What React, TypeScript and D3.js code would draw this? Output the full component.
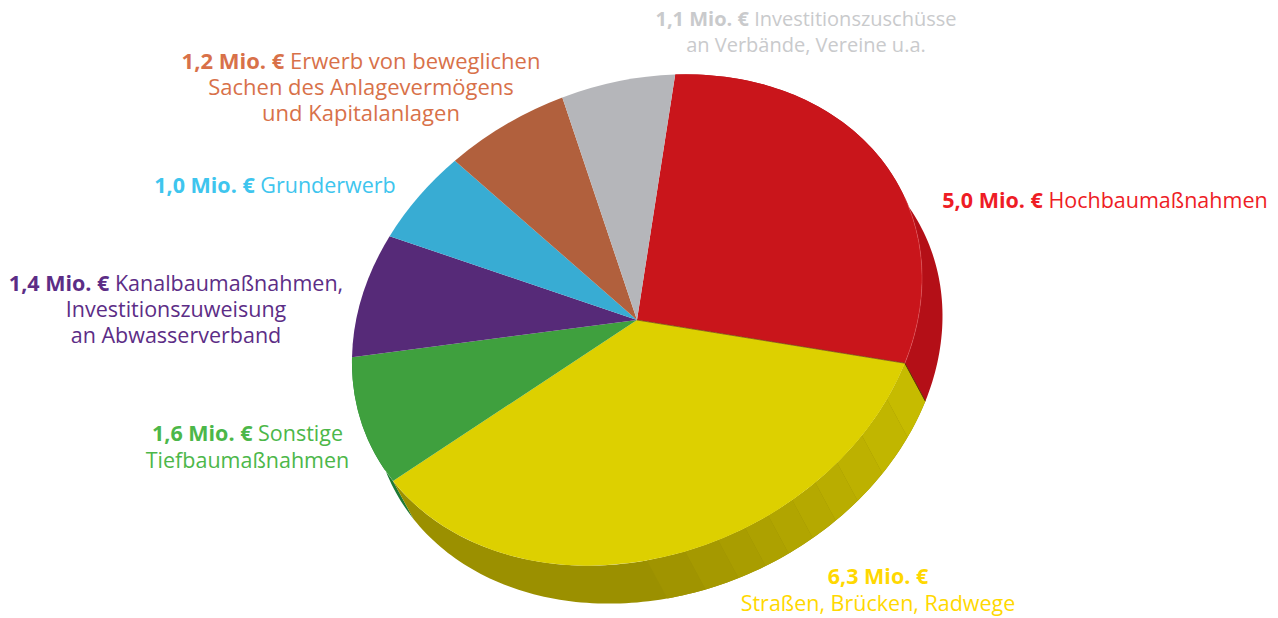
import React from "react";
import * as d3 from "d3";

const categories = ["Hochbaumaßnahmen", "Straßen, Brücken, Radwege", "Sonstige Tiefbaumaßnahmen", "Kanalbaumaßnahmen, Investitionszuweisung an Abwasserverband", "Grunderwerb", "Erwerb von beweglichen Sachen des Anlagevermögens und Kapitalanlagen", "Investitionszuschüsse an Verbände, Vereine u.a."];
const values = [5.0, 6.3, 1.58, 1.4, 1.0, 1.2, 1.12];
const topColors = ["#c9151b", "#ddd000", "#3fa03e", "#562a78", "#38acd3", "#b1603d", "#b5b6ba"];
const wallColors = ["#b40f17", "#c5ba00", "#1f7a35", "#3a1a55", "#237d9b", "#7d4229", "#85868a"];
const yellowWallShades = ["#c6bb00", "#c1b600", "#bdb100", "#b9ad00", "#b5a900", "#b1a500", "#ada100", "#a99d00", "#a59900", "#a09400"];
const yellowBandEdges = [118.7, 127.9, 135.4, 141.3, 147, 152.6, 157.7, 163.5, 170.3, 178];

const labelBold = ["5,0 Mio. €", "6,3 Mio. €", "1,6 Mio. €", "1,4 Mio. €", "1,0 Mio. €", "1,2 Mio. €", "1,1 Mio. €"];
const labelColors = ["#ee1c25", "#ffd800", "#4cb749", "#5c2d86", "#3ec5ee", "#d87149", "#c9cacc"];
const labelFirst = [" Hochbaumaßnahmen", "", " Sonstige", " Kanalbaumaßnahmen,", " Grunderwerb", " Erwerb von beweglichen", " Investitionszuschüsse"];
const labelRest = [[], ["Straßen, Brücken, Radwege"], ["Tiefbaumaßnahmen"], ["Investitionszuweisung", "an Abwasserverband"], [], ["Sachen des Anlagevermögens", "und Kapitalanlagen"], ["an Verbände, Vereine u.a."]];
const labelX = [1105, 878, 247.5, 176, 275, 361, 806];
const labelY = [208, 584, 441, 291, 193, 69, 26];
const lineGaps = [0, 27, 27, 26, 0, 26, 26];
const labelSizes = [21.5, 21.5, 21.5, 21.5, 21.5, 22, 20];

const W = 1278, H = 618;
const cx = 637, cy = 320;
const ax = 285, skew = -42, ay = 242;
const dx = 20.5, dy = 38;
const startDeg = 7.7;
const rad = (deg: number) => (deg * Math.PI) / 180;

const project = (t: number, ox = 0, oy = 0): [number, number] => {
  const u = Math.sin(t), v = -Math.cos(t);
  return [cx + ax * u + ox, cy + skew * u + ay * v + oy];
};

const line = d3.line();

function sweep(a0: number, a1: number) {
  const n = Math.max(2, Math.ceil((a1 - a0) / 0.02));
  const ts = d3.range(n + 1).map((i) => a0 + ((a1 - a0) * i) / n);
  const pts = [...ts.map((t) => project(t)), ...ts.slice().reverse().map((t) => project(t, dx, dy))];
  return line(pts as [number, number][]) + "Z";
}

export default function App() {
  const start = rad(startDeg);
  const pie = d3.pie<number>().sort(null).startAngle(start).endAngle(start + 2 * Math.PI);
  const arcs = pie(values);
  const arc = d3.arc<d3.PieArcDatum<number>>().innerRadius(0).outerRadius(1);
  const red = arcs[0], yellow = arcs[1], green = arcs[2];

  return (
    <svg width={W} height={H} viewBox={`0 0 ${W} ${H}`} style={{ position: "absolute", left: 0, top: 0, background: "#fff" }}>
      <path d={sweep(green.startAngle, green.endAngle)} fill={wallColors[2]} />
      <path d={sweep(yellow.startAngle, yellow.endAngle)} fill="#9b9000" />
      {yellowWallShades.map((c, i) => (
        <path key={i} d={sweep(i === 0 ? yellow.startAngle : rad(yellowBandEdges[i - 1]), rad(yellowBandEdges[i]))} fill={c} />
      ))}
      <path d={sweep(red.startAngle, red.endAngle)} fill={wallColors[0]} />
      <path d={line([project(red.endAngle), project(red.endAngle, dx, dy)] as [number, number][])!} stroke="#5a3a00" strokeWidth={1} fill="none" />
      <g transform={`matrix(${ax},${skew},0,${ay},${cx},${cy})`}>
        {arcs.map((d, i) => (
          <path key={i} d={arc(d)!} fill={topColors[i]} />
        ))}
      </g>
      <path d={line([[cx, cy], project(red.endAngle)] as [number, number][])!} stroke="#7a4a10" strokeWidth={0.8} fill="none" />
      <path d={line(d3.range(70, 110.1, 0.5).map((a) => project(rad(a))) as [number, number][])!} stroke="#e2555a" strokeWidth={1} fill="none" opacity={0.5} />
      <g style={{ fontFamily: "'Open Sans', sans-serif" }} textAnchor="middle">
        {categories.map((name, i) => (
          <text key={name} fill={labelColors[i]} fontSize={labelSizes[i]} aria-label={name}>
            <tspan x={labelX[i]} y={labelY[i]} fontWeight={700}>{labelBold[i]}</tspan>
            <tspan>{labelFirst[i]}</tspan>
            {labelRest[i].map((l, j) => (
              <tspan key={j} x={labelX[i]} y={labelY[i] + lineGaps[i] * (j + 1)}>{l}</tspan>
            ))}
          </text>
        ))}
      </g>
    </svg>
  );
}
